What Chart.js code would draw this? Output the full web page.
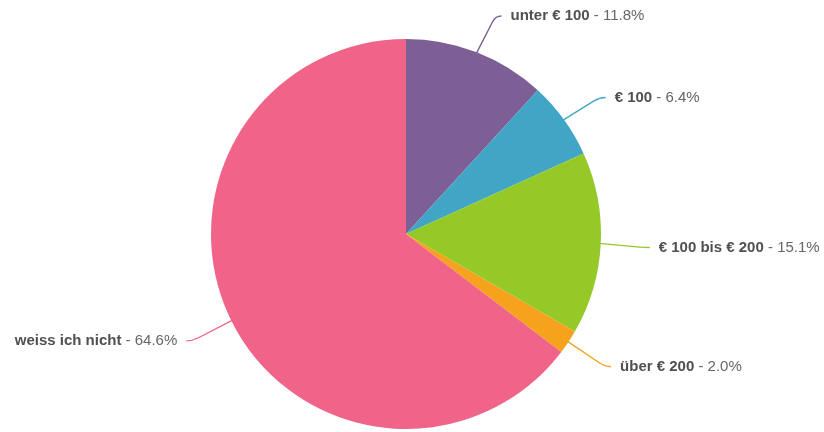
<!DOCTYPE html>
<html>
<head>
<meta charset="utf-8">
<script src="https://cdn.jsdelivr.net/npm/chart.js@4/dist/chart.umd.min.js"></script>
<style>
  html, body { margin: 0; padding: 0; background: #fff; }
  #chartHolder { width: 824px; height: 432px; }
</style>
</head>
<body>
<div id="chartHolder"><canvas id="myChart"></canvas></div>
<script>
// data
const labels1 = ['unter € 100', '€ 100', '€ 100 bis € 200', 'über € 200', 'weiss ich nicht'];
const values1 = [11.8, 6.4, 15.1, 2.0, 64.6];
const colors1 = ['#7d5f95', '#41a5c6', '#95c927', '#f5a21d', '#ef6488'];

// draws the outside labels with the bent connector lines (highcharts look)
const outsideLabels = {
    id: 'outsideLabels',
    afterDatasetsDraw(chart) {
        const ctx = chart.ctx;
        const meta = chart.getDatasetMeta(0);
        meta.data.forEach((arc, i) => {
            const cx = arc.x, cy = arc.y, r = arc.outerRadius;
            const a = (arc.startAngle + arc.endAngle) / 2;
            const R = r + 38; //distance of the label ring (horizontal)
            const sx = cx + Math.cos(a) * (r - 2);
            const sy = cy + Math.sin(a) * (r - 2);
            const y = cy + 2 + Math.sin(a) * (r + 41);
            const side = Math.cos(a) >= 0 ? 1 : -1;
            const bx = cx + side * (Math.abs(Math.cos(a)) * R + 5);
            const ex = bx + side * 6;
            const px = sx + (bx - sx) * 0.85;
            const py = sy + (y - sy) * 0.85;

            ctx.save();
            ctx.strokeStyle = colors1[i];
            ctx.lineWidth = 1.4;
            ctx.beginPath();
            ctx.moveTo(sx, sy);
            ctx.lineTo(px, py);
            ctx.quadraticCurveTo(bx, y, ex, y);
            ctx.stroke();

            const name = labels1[i];
            const rest = ' - ' + values1[i].toFixed(1) + '%';
            ctx.textBaseline = 'middle';
            ctx.textAlign = 'left';
            ctx.font = 'bold 15px "Liberation Sans", Arial, sans-serif';
            const w1 = ctx.measureText(name).width;
            ctx.font = '15px "Liberation Sans", Arial, sans-serif';
            const w2 = ctx.measureText(rest).width;
            let tx = side > 0 ? ex + 9 : ex - 9 - w1 - w2;
            ctx.font = 'bold 15px "Liberation Sans", Arial, sans-serif';
            ctx.fillStyle = '#505050';
            ctx.fillText(name, tx, y);
            ctx.font = '15px "Liberation Sans", Arial, sans-serif';
            ctx.fillStyle = '#666666';
            ctx.fillText(rest, tx + w1, y);
            ctx.restore();
        });
    }
};

let myChart1 = document.querySelector('#myChart').getContext('2d');

chart1 = new Chart(myChart1, {
    type: 'pie',
    data: {
        labels: labels1,
        datasets: [{
            data: values1,
            backgroundColor: colors1,
            borderWidth: 0,
            hoverBorderWidth: 0,
            hoverOffset: 0
        }]
    },
    options: {
        responsive: true,
        maintainAspectRatio: false,
        animation: false,
        layout: {
            padding: { top: 39, bottom: 3, left: 0, right: 12 }
        },
        plugins: {
            legend: { display: false },
            tooltip: { enabled: false }
        }
    },
    plugins: [outsideLabels]
});
</script>
</body>
</html>
